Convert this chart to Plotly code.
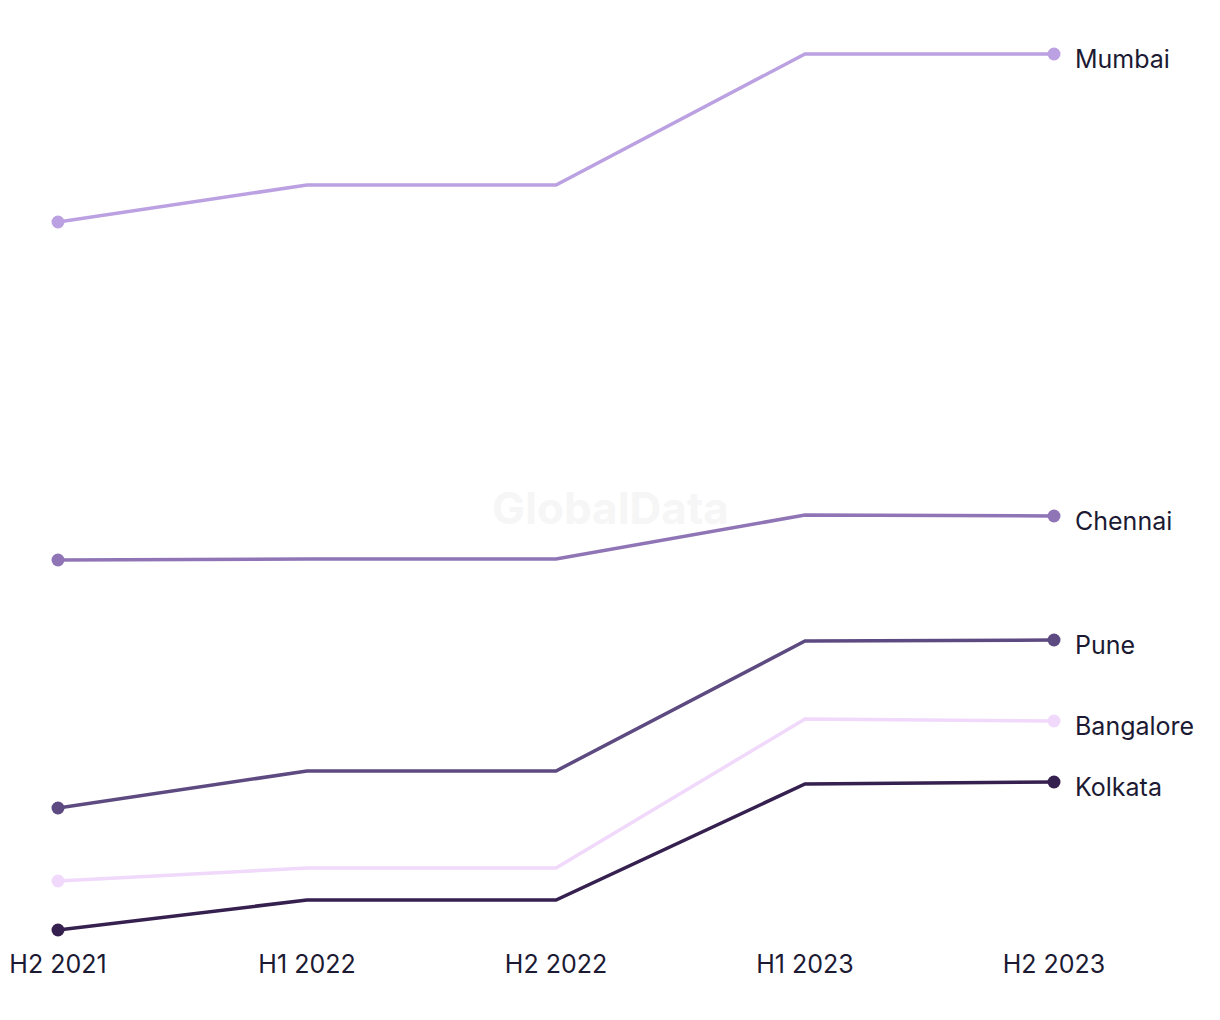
import plotly.graph_objects as go

# half-year periods
periods = ["H2 2021", "H1 2022", "H2 2022", "H1 2023", "H2 2023"]

# series values (relative index)
mumbai = [778, 815, 815, 946, 946]
chennai = [440, 441, 441, 485, 484]
pune = [192, 229, 229, 359, 360]
bangalore = [119, 132, 132, 281, 279]
kolkata = [70, 100, 100, 216, 218]

cities = ["Mumbai", "Chennai", "Pune", "Bangalore", "Kolkata"]
series = [mumbai, chennai, pune, bangalore, kolkata]
colors = ["#bba1e1", "#8f75b6", "#5d4a81", "#f0d9fb", "#35204f"]

# dots only at the start and end of each line
dot_sizes = [13, 0, 0, 0, 13]

fig = go.Figure()

for name, vals, col in zip(cities, series, colors):
    fig.add_trace(go.Scatter(
        x=periods, y=vals, name=name, mode="lines+markers",
        line=dict(color=col, width=3.5),
        marker=dict(color=col, size=dot_sizes, opacity=1, line=dict(width=0)),
        cliponaxis=False,
        hovertemplate="%{x}: %{y}<extra>" + name + "</extra>",
    ))
    # end label to the right of the last point
    fig.add_annotation(
        x=periods[-1], y=vals[-1], text=name, showarrow=False,
        xanchor="left", yanchor="middle", xshift=19, yshift=-5,
        font=dict(size=25, color="#1c1a33"),
    )

# faint watermark
fig.add_annotation(
    text="<b>GlobalData</b>", xref="paper", yref="paper", x=0.555, y=0.482,
    showarrow=False, font=dict(size=44, color="#f6f6f6"),
)

fig.update_layout(
    width=1220, height=1020,
    margin=dict(l=50, r=174, t=36, b=88),
    plot_bgcolor="white", paper_bgcolor="white",
    showlegend=False,
    font=dict(family="Inter, Roboto, sans-serif", color="#1c1a33"),
)
fig.update_xaxes(
    range=[0, 4], showgrid=False, zeroline=False, showline=False,
    tickfont=dict(size=25, color="#1c1a33"), ticks="", ticklabelstandoff=7,
    automargin=False,
)
fig.update_yaxes(
    range=[60, 956], visible=False, showgrid=False, zeroline=False,
    automargin=False,
)

fig.write_html("out.html")
